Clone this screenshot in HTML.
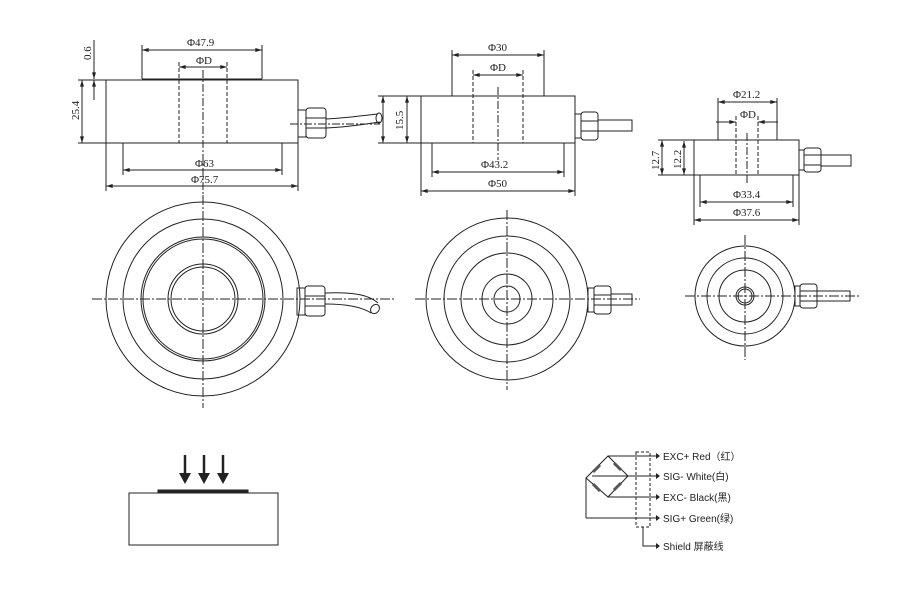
<!DOCTYPE html>
<html><head><meta charset="utf-8"><style>
body{margin:0;background:#fff}
svg{display:block}
text{font-family:"Liberation Serif","Noto Sans CJK SC",serif;font-size:11px;fill:#222}
.s{font-family:"Liberation Sans","Noto Sans CJK SC",sans-serif;font-size:10px}
</style></head><body>
<svg width="900" height="590" viewBox="0 0 900 590" xmlns="http://www.w3.org/2000/svg">
<defs><marker id="a" viewBox="0 0 10 6" refX="10" refY="3" markerWidth="8" markerHeight="4" orient="auto-start-reverse"><path d="M0,0L10,3L0,6z" fill="#222"/></marker></defs>
<g stroke="#222" fill="none" stroke-width="1">
<!-- LEFT SIDE VIEW -->
<rect x="106" y="80" width="192" height="63"/>
<line x1="142" y1="79" x2="262" y2="79"/>
<line x1="142" y1="45" x2="142" y2="79"/><line x1="262" y1="45" x2="262" y2="79"/>
<line x1="142" y1="50" x2="262" y2="50" marker-start="url(#a)" marker-end="url(#a)"/>
<line x1="179" y1="62" x2="179" y2="143" stroke-dasharray="4,2"/><line x1="227" y1="62" x2="227" y2="143" stroke-dasharray="4,2"/>
<line x1="179" y1="67" x2="227" y2="67" marker-start="url(#a)" marker-end="url(#a)"/>
<line x1="203" y1="70" x2="203" y2="200" stroke-dasharray="8,2,2,2"/>
<line x1="123" y1="143" x2="282" y2="143" stroke-dasharray="3,2"/>
<line x1="123" y1="143" x2="123" y2="175"/><line x1="282" y1="143" x2="282" y2="175"/>
<line x1="123" y1="170" x2="282" y2="170" marker-start="url(#a)" marker-end="url(#a)"/>
<line x1="106" y1="143" x2="106" y2="191"/><line x1="298" y1="143" x2="298" y2="191"/>
<line x1="106" y1="186" x2="298" y2="186" marker-start="url(#a)" marker-end="url(#a)"/>
<line x1="78" y1="80" x2="106" y2="80"/><line x1="78" y1="143" x2="106" y2="143"/>
<line x1="82" y1="80" x2="82" y2="143" marker-start="url(#a)" marker-end="url(#a)"/>
<line x1="94" y1="40" x2="94" y2="79" marker-end="url(#a)"/><line x1="94" y1="100" x2="94" y2="80" marker-end="url(#a)"/>
<rect x="298" y="110" width="8" height="27"/><rect x="306" y="108" width="20" height="30" rx="3"/>
<line x1="306" y1="118" x2="326" y2="118"/><line x1="306" y1="128" x2="326" y2="128"/>
<path d="M326,119 C350,118 365,115 378,114 M326,128 C350,127 365,124 380,122"/>
<ellipse cx="379" cy="118" rx="3" ry="5"/>
<line x1="290" y1="124" x2="380" y2="124" stroke-dasharray="8,2,2,2"/>
<!-- MIDDLE SIDE VIEW -->
<rect x="421" y="96" width="154" height="47"/>
<line x1="452" y1="50" x2="452" y2="96"/><line x1="544" y1="50" x2="544" y2="96"/>
<line x1="452" y1="55" x2="544" y2="55" marker-start="url(#a)" marker-end="url(#a)"/>
<line x1="473" y1="70" x2="473" y2="143" stroke-dasharray="4,2"/><line x1="523" y1="70" x2="523" y2="143" stroke-dasharray="4,2"/>
<line x1="473" y1="75" x2="523" y2="75" marker-start="url(#a)" marker-end="url(#a)"/>
<line x1="498" y1="87" x2="498" y2="160" stroke-dasharray="8,2,2,2"/>
<line x1="432" y1="143" x2="564" y2="143" stroke-dasharray="3,2"/>
<line x1="432" y1="143" x2="432" y2="177"/><line x1="564" y1="143" x2="564" y2="177"/>
<line x1="432" y1="172" x2="564" y2="172" marker-start="url(#a)" marker-end="url(#a)"/>
<line x1="421" y1="143" x2="421" y2="196"/><line x1="575" y1="143" x2="575" y2="196"/>
<line x1="421" y1="191" x2="575" y2="191" marker-start="url(#a)" marker-end="url(#a)"/>
<line x1="378" y1="96" x2="421" y2="96"/><line x1="378" y1="143" x2="421" y2="143"/>
<line x1="407" y1="96" x2="407" y2="143" marker-start="url(#a)" marker-end="url(#a)"/>
<line x1="383" y1="96" x2="383" y2="143" marker-start="url(#a)" marker-end="url(#a)"/>
<rect x="575" y="114" width="6" height="24"/><rect x="581" y="112" width="17" height="28" rx="3"/>
<line x1="581" y1="121" x2="598" y2="121"/><line x1="581" y1="131" x2="598" y2="131"/>
<polyline points="598,120 632,120 632,131 598,131"/>
<!-- RIGHT SIDE VIEW -->
<rect x="694" y="140" width="105" height="35"/>
<line x1="718" y1="98" x2="718" y2="140"/><line x1="777" y1="98" x2="777" y2="140"/>
<line x1="718" y1="102" x2="777" y2="102" marker-start="url(#a)" marker-end="url(#a)"/>
<line x1="736" y1="116" x2="736" y2="175" stroke-dasharray="4,2"/><line x1="758" y1="116" x2="758" y2="175" stroke-dasharray="4,2"/>
<line x1="716" y1="122" x2="736" y2="122" marker-end="url(#a)"/><line x1="778" y1="122" x2="758" y2="122" marker-end="url(#a)"/>
<line x1="747" y1="133" x2="747" y2="185" stroke-dasharray="8,2,2,2"/>
<line x1="700" y1="175" x2="793" y2="175" stroke-dasharray="3,2"/>
<line x1="700" y1="175" x2="700" y2="207"/><line x1="793" y1="175" x2="793" y2="207"/>
<line x1="700" y1="202" x2="793" y2="202" marker-start="url(#a)" marker-end="url(#a)"/>
<line x1="694" y1="175" x2="694" y2="225"/><line x1="799" y1="175" x2="799" y2="225"/>
<line x1="694" y1="220" x2="799" y2="220" marker-start="url(#a)" marker-end="url(#a)"/>
<line x1="658" y1="140" x2="694" y2="140"/><line x1="658" y1="175" x2="694" y2="175"/>
<line x1="662" y1="140" x2="662" y2="175" marker-start="url(#a)" marker-end="url(#a)"/>
<line x1="684" y1="141" x2="684" y2="175" marker-start="url(#a)" marker-end="url(#a)"/>
<rect x="799" y="150" width="5" height="20"/><rect x="804" y="148" width="17" height="24" rx="3"/>
<line x1="804" y1="155" x2="821" y2="155"/><line x1="804" y1="165" x2="821" y2="165"/>
<polyline points="821,155 851,155 851,166 821,166"/>
<!-- TOP VIEWS -->
<circle cx="203" cy="299" r="97"/><circle cx="203" cy="299" r="80"/><circle cx="203" cy="299" r="62"/><circle cx="203" cy="299" r="60"/><circle cx="203" cy="299" r="35"/><circle cx="203" cy="299" r="32"/>
<g stroke-dasharray="10,2,2,2"><line x1="92" y1="299" x2="395" y2="299"/><line x1="203" y1="195" x2="203" y2="408"/></g>
<rect x="297" y="288" width="8" height="27"/><rect x="305" y="286" width="20" height="30" rx="3"/>
<line x1="305" y1="296" x2="325" y2="296"/><line x1="305" y1="306" x2="325" y2="306"/>
<path d="M325,293 C350,292 368,294 378,303 M325,304 C348,304 362,307 371,313"/>
<ellipse cx="375" cy="309" rx="4" ry="5" transform="rotate(40 375 309)"/>
<circle cx="507" cy="299" r="81"/><circle cx="507" cy="299" r="63"/><circle cx="507" cy="299" r="46"/><circle cx="507" cy="299" r="25"/><circle cx="507" cy="299" r="13"/>
<g stroke-dasharray="10,2,2,2"><line x1="415" y1="299" x2="640" y2="299"/><line x1="507" y1="210" x2="507" y2="390"/></g>
<rect x="588" y="288" width="6" height="24"/><rect x="594" y="286" width="17" height="28" rx="3"/>
<line x1="594" y1="295" x2="611" y2="295"/><line x1="594" y1="305" x2="611" y2="305"/>
<polyline points="611,294 632,294 632,305 611,305"/>
<circle cx="745" cy="296" r="50"/><circle cx="745" cy="296" r="38"/><circle cx="745" cy="296" r="26"/><circle cx="745" cy="296" r="9"/><circle cx="745" cy="296" r="7"/>
<g stroke-dasharray="10,2,2,2"><line x1="685" y1="296" x2="860" y2="296"/><line x1="745" y1="235" x2="745" y2="360"/></g>
<rect x="795" y="286" width="5" height="20"/><rect x="800" y="284" width="17" height="24" rx="3"/>
<line x1="800" y1="291" x2="817" y2="291"/><line x1="800" y1="301" x2="817" y2="301"/>
<polyline points="817,291 850,291 850,301 817,301"/>
<!-- LOAD DIAGRAM -->
<rect x="129" y="493" width="149" height="52"/>
<rect x="158" y="490" width="90" height="3" fill="#222"/>
</g>
<g fill="#222" stroke="#222" stroke-width="2.5">
<line x1="185" y1="455" x2="185" y2="475"/><line x1="204" y1="455" x2="204" y2="475"/><line x1="223" y1="455" x2="223" y2="475"/>
</g>
<g fill="#222">
<path d="M179,473h12l-6,11z"/><path d="M198,473h12l-6,11z"/><path d="M217,473h12l-6,11z"/>
</g>
<!-- WIRING -->
<g stroke="#222" fill="none" stroke-width="1">
<path d="M608,456 L628,456 M592,476 L628,476 M608,497 L628,497 M586,518 L628,518"/>
<path d="M608,456 L586,478 L608,497 L628,476 Z"/>
<path d="M586,478 L586,518"/>
<g stroke-width="3" stroke="#555"><line x1="593" y1="472" x2="600" y2="465"/><line x1="614" y1="463" x2="621" y2="470"/><line x1="593" y1="484" x2="600" y2="491"/><line x1="614" y1="490" x2="621" y2="483"/></g>
<rect x="636" y="452" width="14" height="75" stroke-dasharray="3,2"/>
<path d="M628,456H656M628,476H656M628,497H656M628,518H656"/>
<path d="M643,527V546H656"/>
</g>
<g fill="#222"><path d="M656,453l4,3l-4,3z"/><path d="M656,473l4,3l-4,3z"/><path d="M656,494l4,3l-4,3z"/><path d="M656,515l4,3l-4,3z"/><path d="M656,543l4,3l-4,3z"/></g>
<text class="s" x="663" y="460">EXC+ Red（红）</text>
<text class="s" x="663" y="480">SIG- White(白)</text>
<text class="s" x="663" y="501">EXC- Black(黑)</text>
<text class="s" x="663" y="522">SIG+ Green(绿)</text>
<text class="s" x="663" y="550">Shield  屏蔽线</text>
<!-- labels -->
<text x="187" y="46">Φ47.9</text><text x="196" y="64">ΦD</text>
<text x="195" y="167">Φ63</text><text x="191" y="183">Φ75.7</text>
<text x="0" y="0" transform="translate(79,120) rotate(-90)">25.4</text>
<text x="0" y="0" transform="translate(91,60) rotate(-90)">0.6</text>
<text x="488" y="51">Φ30</text><text x="490" y="71">ΦD</text>
<text x="481" y="168">Φ43.2</text><text x="488" y="187">Φ50</text>
<text x="0" y="0" transform="translate(403,130) rotate(-90)">15.5</text>
<text x="733" y="98">Φ21.2</text><text x="740" y="118">ΦD</text>
<text x="733" y="198">Φ33.4</text><text x="733" y="216">Φ37.6</text>
<text x="0" y="0" transform="translate(659,170) rotate(-90)">12.7</text>
<text x="0" y="0" transform="translate(681,169) rotate(-90)">12.2</text>
</svg>
</body></html>
